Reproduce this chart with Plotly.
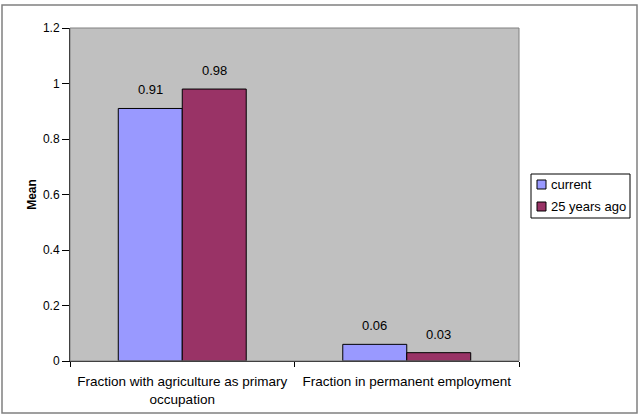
import plotly.graph_objects as go

categories = ["Fraction with agriculture as primary<br>occupation", "Fraction in permanent employment"]
series_names = ["current", "25 years ago"]
current = [0.91, 0.06]
years_ago = [0.98, 0.03]
y_ticks = [0, 0.2, 0.4, 0.6, 0.8, 1.0, 1.2]
y_tick_labels = ["0", "0.2", "0.4", "0.6", "0.8", "1", "1.2"]

FONT = "Liberation Sans, Arial, sans-serif"
colors = ["#9999FF", "#993366"]
series = [current, years_ago]

L, R, T, B = 70, 121, 28, 54
W, H = 640, 415
pw, ph = W - L - R, H - T - B
BARGAP = 0.43
bar_px = pw / len(categories) * (1 - BARGAP) / len(series)


def px_x(x):
    return (x - L) / pw


def px_y(y):
    return (H - B - y) / ph


fig = go.Figure()
annotations = []
for i, (name, vals, col) in enumerate(zip(series_names, series, colors)):
    fig.add_trace(go.Bar(
        x=categories, y=vals, name=name,
        marker=dict(color=col, line=dict(color="black", width=1)),
        showlegend=False,
    ))
    shift = (i - (len(series) - 1) / 2) * bar_px
    for c, v in zip(categories, vals):
        annotations.append(dict(
            x=c, y=v, xref="x", yref="y", text=f"{v:.2f}", showarrow=False,
            xshift=shift, yshift=9, yanchor="bottom",
            font=dict(family=FONT, size=13, color="black"),
        ))

# manual legend (Excel style)
shapes = [
    dict(type="rect", xref="paper", yref="paper",
         x0=px_x(2), x1=px_x(637), y0=px_y(413), y1=px_y(5),
         line=dict(color="#808080", width=1.5), fillcolor="rgba(0,0,0,0)", layer="below"),
    dict(type="rect", xref="paper", yref="paper",
         x0=0, x1=1, y0=0, y1=1,
         line=dict(color="#808080", width=1), fillcolor="rgba(0,0,0,0)", layer="above"),
    dict(type="rect", xref="paper", yref="paper",
         x0=px_x(531), x1=px_x(630), y0=px_y(218), y1=px_y(174),
         line=dict(color="black", width=1), fillcolor="white"),
]
for i, (name, col) in enumerate(zip(series_names, colors)):
    cy = 184.5 + i * 22
    shapes.append(dict(type="rect", xref="paper", yref="paper",
                       x0=px_x(537), x1=px_x(546), y0=px_y(cy + 4.5), y1=px_y(cy - 4.5),
                       line=dict(color="black", width=1), fillcolor=col))
    annotations.append(dict(x=px_x(549), y=px_y(cy), xref="paper", yref="paper",
                            text=name, showarrow=False, xanchor="left", yanchor="middle",
                            font=dict(family=FONT, size=13, color="black")))

fig.update_layout(
    width=W, height=H,
    margin=dict(l=L, r=R, t=T, b=B, autoexpand=False),
    paper_bgcolor="white", plot_bgcolor="#C0C0C0",
    barmode="group", bargap=BARGAP, bargroupgap=0,
    font=dict(family=FONT, size=12, color="black"),
    showlegend=False,
    shapes=shapes,
    annotations=annotations,
)
fig.update_xaxes(showgrid=False, showline=True, linecolor="black", linewidth=1,
                 ticks="outside", tickson="boundaries", ticklen=5, tickcolor="black",
                 ticklabelstandoff=8,
                 tickfont=dict(family=FONT, size=13.5), zeroline=False)
fig.update_yaxes(range=[0, 1.2], tickvals=y_ticks, ticktext=y_tick_labels,
                 showgrid=False, showline=True, linecolor="black", linewidth=1,
                 ticks="outside", ticklen=7, tickcolor="black", zeroline=False,
                 tickfont=dict(family=FONT, size=12),
                 title=dict(text="<b>Mean</b>", font=dict(family=FONT, size=12), standoff=3))

fig.write_html("out.html")
